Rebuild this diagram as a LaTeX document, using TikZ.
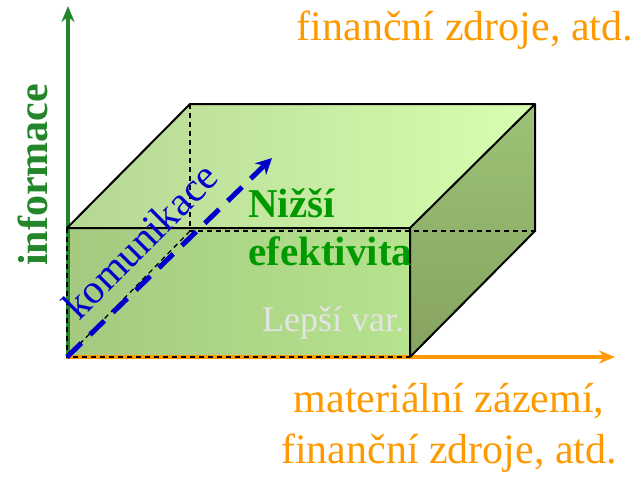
\documentclass[tikz,border=0pt]{standalone}
\usepackage{fontspec}
\setmainfont{Liberation Serif}
\usetikzlibrary{arrows.meta}
\definecolor{axgreen}{HTML}{23862A}
\definecolor{axorange}{HTML}{FF9900}
\definecolor{txtgreen}{HTML}{009A00}
\definecolor{kblue}{HTML}{0000CC}
\definecolor{lgray}{HTML}{E4E4E4}
\definecolor{topL}{HTML}{B6D694}
\definecolor{topR}{HTML}{D8FFB0}
\definecolor{frL}{HTML}{A4C980}
\definecolor{frR}{HTML}{B6E38E}
\definecolor{sdT}{HTML}{9DC277}
\definecolor{sdB}{HTML}{86A35F}
\begin{document}
\begin{tikzpicture}[x=1pt,y=-1pt,
  edge/.style={black,line width=2pt,line join=round},
  hidden/.style={black,line width=1.3pt,dash pattern=on 5pt off 4pt},
  axis/.style={line width=3.5pt,-{Stealth[length=16pt,width=13pt]}},
  lbl/.style={inner sep=0pt,font=\fontsize{42}{48}\selectfont}]
\useasboundingbox (0,0) rectangle (644,483);
% box corners
\coordinate (FBL) at (67,357);
\coordinate (FBR) at (410,357);
\coordinate (FTL) at (67,228);
\coordinate (FTR) at (410,228);
\coordinate (BTL) at (190,104);
\coordinate (BTR) at (535,104);
\coordinate (BBL) at (190,231);
\coordinate (BBR) at (535,231);
% faces
\shade[left color=frL,right color=frR] (FTL) -- (FTR) -- (FBR) -- (FBL) -- cycle;
\shade[left color=topL,right color=topR] (FTL) -- (BTL) -- (BTR) -- (FTR) -- cycle;
\shade[top color=sdT,bottom color=sdB] (FTR) -- (BTR) -- (BBR) -- (FBR) -- cycle;
% axes
\coordinate (O) at (68,357);
\coordinate (Ytip) at (68,6);
\coordinate (Xstart) at (66,357);
\coordinate (Xtip) at (615,357);
\draw[axis,axgreen] (O) -- (Ytip);
\draw[axis,axorange] (Xstart) -- (Xtip);
% hidden edges
\draw[hidden] (BTL) -- (BBL) -- (BBR);
\draw[hidden] (FBL) -- (BBL);
\draw[hidden] (FTL) -- (FBL) -- (FBR);
% visible edges
\draw[edge] (FBR) -- (FTR) -- (FTL) -- (BTL) -- (BTR) -- (FTR);
\draw[edge] (BTR) -- (BBR) -- (FBR);
% communication arrow
\coordinate (Ktip) at (272,158);
\draw[kblue,line width=5pt,dash pattern=on 20pt off 12pt,-{Stealth[length=16pt,width=16pt]}] (FBL) -- (Ktip);
% texts
\node[lbl,axgreen,rotate=90,font=\fontsize{42}{48}\selectfont\bfseries] (inf) at (33,175) {informace};
\node[lbl,kblue,rotate=45,font=\fontsize{41}{44}\selectfont] (kom) at (140,241) {komunikace};
\node[lbl,txtgreen,anchor=base west,font=\fontsize{41}{48}\selectfont\bfseries,align=left] (niz) at (248,265) {Nižší\\efektivita};
\node[lbl,lgray,anchor=base west,font=\fontsize{36}{40}\selectfont] (lep) at (262,331) {Lepší var.};
\node[lbl,axorange,anchor=base east] (top) at (633,40) {finanční zdroje, atd.};
\node[lbl,axorange,anchor=base,align=center,font=\fontsize{42}{51}\selectfont] (bot) at (449,463) {materiální zázemí,\\finanční zdroje, atd.};
\end{tikzpicture}
\end{document}
